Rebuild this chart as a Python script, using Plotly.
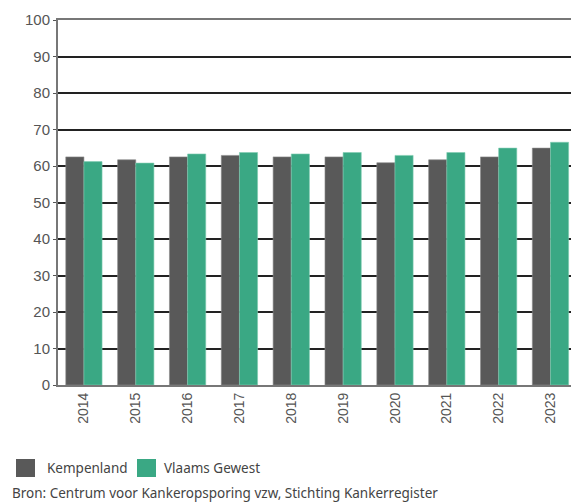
import plotly.graph_objects as go

years = ["2014", "2015", "2016", "2017", "2018", "2019", "2020", "2021", "2022", "2023"]
kempenland = [62.5, 61.7, 62.5, 62.9, 62.5, 62.5, 60.9, 61.7, 62.5, 64.9]
vlaams_gewest = [61.2, 60.8, 63.3, 63.7, 63.3, 63.7, 62.9, 63.7, 64.9, 66.5]
y_ticks = [0, 10, 20, 30, 40, 50, 60, 70, 80, 90, 100]
series_names = ["Kempenland", "Vlaams Gewest"]
series_colors = ["#595959", "#3aa884"]
source_text = "Bron: Centrum voor Kankeropsporing vzw, Stichting Kankerregister"

# page body has an 8px default margin; lay the figure out in page pixels
OFF = 8
W, H = 579 - OFF, 504 - OFF
L, R, T, B = 58 - OFF, 0, 20 - OFF, 119
pw, ph = W - L - R, H - T - B

def px_x(x):  # page pixel -> paper coordinate
    return (x - OFF - L) / pw

def px_y(y):
    return (H - B - (y - OFF)) / ph

fig = go.Figure()
fig.add_trace(go.Bar(name=series_names[0], x=years, y=kempenland, showlegend=False,
                     marker=dict(color=series_colors[0], line=dict(color="#8a8a8a", width=0.6))))
fig.add_trace(go.Bar(name=series_names[1], x=years, y=vlaams_gewest, showlegend=False,
                     marker=dict(color=series_colors[1], line=dict(color="#7fcdb2", width=0.6))))

legend_font = dict(family="Noto Sans, Open Sans", size=13.5, color="#444444")
shapes = []
annotations = []
legend_items = [(16, 45), (137, 162)]
for (sx, tx), name, col in zip(legend_items, series_names, series_colors):
    shapes.append(dict(type="rect", xref="paper", yref="paper",
                       x0=px_x(sx), x1=px_x(sx + 19), y0=px_y(477), y1=px_y(459),
                       fillcolor=col, line=dict(width=0)))
    annotations.append(dict(text=name, xref="paper", yref="paper", x=px_x(tx), y=px_y(468),
                            xanchor="left", yanchor="middle", showarrow=False, font=legend_font))
annotations.append(dict(text=source_text, xref="paper", yref="paper", x=px_x(10), y=px_y(493),
                        xanchor="left", yanchor="middle", showarrow=False, font=legend_font))

tick_family = "Liberation Sans, Arial, sans-serif"
fig.update_layout(
    width=W, height=H,
    margin=dict(l=L, r=R, t=T, b=B, autoexpand=False),
    paper_bgcolor="white", plot_bgcolor="white",
    barmode="group", bargap=0.3, bargroupgap=0,
    font=dict(family=tick_family, color="#555555"),
    showlegend=False,
    shapes=shapes,
    annotations=annotations,
)
fig.update_yaxes(range=[0, 100], tickvals=y_ticks, showgrid=True, gridcolor="#222222", gridwidth=1.5,
                 zeroline=False, showline=True, linecolor="#777777", linewidth=2,
                 ticks="outside", ticklen=3, tickcolor="#555555", automargin=False,
                 tickfont=dict(family=tick_family, size=15, color="#555555"), fixedrange=True)
fig.update_xaxes(type="category", range=[-0.5, 9.55], tickangle=-90, showline=True, mirror=True,
                 linecolor="#777777", linewidth=2, ticks="", automargin=False,
                 tickfont=dict(family=tick_family, size=14, color="#555555"))

fig.write_html("out.html")
